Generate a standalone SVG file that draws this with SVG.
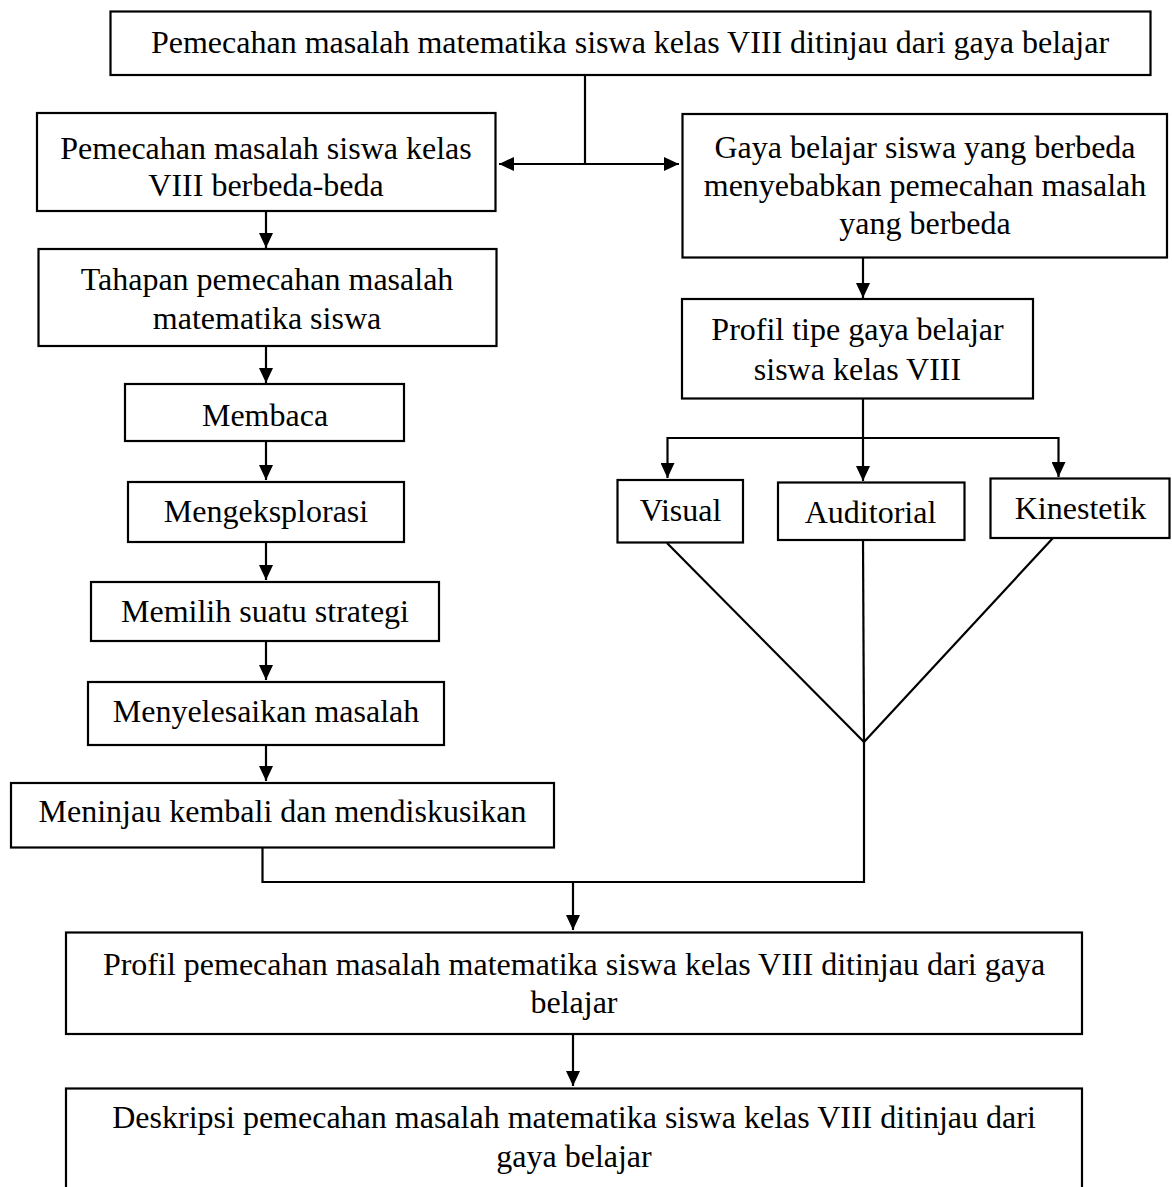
<svg xmlns="http://www.w3.org/2000/svg" width="1172" height="1187" viewBox="0 0 1172 1187">
<style>
.box{fill:#fff;stroke:#000;stroke-width:2.2}
.t{font-family:"Liberation Serif","Times New Roman",serif;font-size:32px;fill:#000;text-anchor:middle}
.c{fill:none;stroke:#000;stroke-width:2.2}
</style>
<defs>
<marker id="ah" markerUnits="userSpaceOnUse" markerWidth="16" markerHeight="14" refX="15" refY="7" orient="auto">
<path d="M0,0 L15,7 L0,14 z" fill="#000"/>
</marker>
</defs>
<rect width="1172" height="1187" fill="#fff"/>
<g id="connectors">
<line class="c" x1="585" y1="75" x2="585" y2="164"/>
<line class="c" x1="585" y1="164" x2="499" y2="164" marker-end="url(#ah)"/>
<line class="c" x1="585" y1="164" x2="679" y2="164" marker-end="url(#ah)"/>
<line class="c" x1="266" y1="211" x2="266" y2="248" marker-end="url(#ah)"/>
<line class="c" x1="266" y1="346" x2="266" y2="383" marker-end="url(#ah)"/>
<line class="c" x1="266" y1="441" x2="266" y2="480" marker-end="url(#ah)"/>
<line class="c" x1="266" y1="542" x2="266" y2="580" marker-end="url(#ah)"/>
<line class="c" x1="266" y1="641" x2="266" y2="680" marker-end="url(#ah)"/>
<line class="c" x1="266" y1="745" x2="266" y2="781" marker-end="url(#ah)"/>
<polyline class="c" points="262.5,847 262.5,882 864,882 864,742"/>
<line class="c" x1="573" y1="882" x2="573" y2="930" marker-end="url(#ah)"/>
<line class="c" x1="573" y1="1034" x2="573" y2="1086" marker-end="url(#ah)"/>
<line class="c" x1="863" y1="257" x2="863" y2="298" marker-end="url(#ah)"/>
<line class="c" x1="863" y1="398" x2="863" y2="438"/>
<line class="c" x1="667.5" y1="438" x2="1058.5" y2="438"/>
<line class="c" x1="667.5" y1="437" x2="667.5" y2="478" marker-end="url(#ah)"/>
<line class="c" x1="863" y1="437" x2="863" y2="481" marker-end="url(#ah)"/>
<line class="c" x1="1058.5" y1="437" x2="1058.5" y2="477" marker-end="url(#ah)"/>
<line class="c" x1="667" y1="543" x2="864" y2="742"/>
<line class="c" x1="863" y1="540" x2="864" y2="742"/>
<line class="c" x1="1053" y1="538" x2="864" y2="742"/>
</g>
<g id="n-top">
<rect class="box" x="110.5" y="11.5" width="1040" height="63.5"/>
<text class="t" x="630" y="53">Pemecahan masalah matematika siswa kelas VIII ditinjau dari gaya belajar</text>
</g>
<g id="n-pms">
<rect class="box" x="37" y="113" width="458.5" height="98"/>
<text class="t" x="266" y="159">Pemecahan masalah siswa kelas</text>
<text class="t" x="266" y="196">VIII berbeda-beda</text>
</g>
<g id="n-gaya">
<rect class="box" x="682.5" y="114" width="484.5" height="143.5"/>
<text class="t" x="925" y="158">Gaya belajar siswa yang berbeda</text>
<text class="t" x="925" y="196">menyebabkan pemecahan masalah</text>
<text class="t" x="925" y="234">yang berbeda</text>
</g>
<g id="n-tahapan">
<rect class="box" x="38.5" y="249" width="458" height="97"/>
<text class="t" x="267" y="290">Tahapan pemecahan masalah</text>
<text class="t" x="267" y="329">matematika siswa</text>
</g>
<g id="n-profil-tipe">
<rect class="box" x="682" y="299" width="351" height="99.5"/>
<text class="t" x="857.5" y="340">Profil tipe gaya belajar</text>
<text class="t" x="857.5" y="380">siswa kelas VIII</text>
</g>
<g id="n-membaca">
<rect class="box" x="125" y="384" width="279" height="57"/>
<text class="t" x="265" y="426">Membaca</text>
</g>
<g id="n-visual">
<rect class="box" x="617.5" y="480" width="125.5" height="62.5"/>
<text class="t" x="680.5" y="521">Visual</text>
</g>
<g id="n-auditorial">
<rect class="box" x="778" y="482.5" width="186.5" height="57.5"/>
<text class="t" x="870.5" y="523">Auditorial</text>
</g>
<g id="n-kinestetik">
<rect class="box" x="990.5" y="478.5" width="179" height="59.5"/>
<text class="t" x="1080.5" y="519">Kinestetik</text>
</g>
<g id="n-eksplorasi">
<rect class="box" x="128" y="482" width="276" height="60"/>
<text class="t" x="266" y="522">Mengeksplorasi</text>
</g>
<g id="n-strategi">
<rect class="box" x="91" y="582" width="348" height="59"/>
<text class="t" x="265" y="622">Memilih suatu strategi</text>
</g>
<g id="n-selesai">
<rect class="box" x="88" y="682" width="356" height="63"/>
<text class="t" x="266" y="722">Menyelesaikan masalah</text>
</g>
<g id="n-tinjau">
<rect class="box" x="11" y="783" width="543" height="64.5"/>
<text class="t" x="282.5" y="822">Meninjau kembali dan mendiskusikan</text>
</g>
<g id="n-profil">
<rect class="box" x="66" y="932.5" width="1016" height="101.5"/>
<text class="t" x="574" y="975">Profil pemecahan masalah matematika siswa kelas VIII ditinjau dari gaya</text>
<text class="t" x="574" y="1013">belajar</text>
</g>
<g id="n-deskripsi">
<rect class="box" x="66" y="1088.5" width="1016" height="120"/>
<text class="t" x="574" y="1128">Deskripsi pemecahan masalah matematika siswa kelas VIII ditinjau dari</text>
<text class="t" x="574" y="1167">gaya belajar</text>
</g>
</svg>
